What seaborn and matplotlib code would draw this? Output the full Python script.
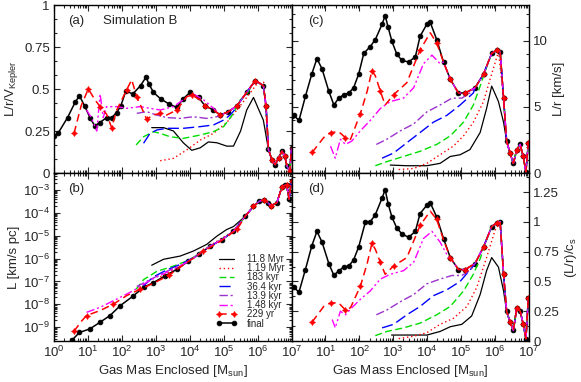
import numpy as np
import matplotlib
matplotlib.use("Agg")
import matplotlib.pyplot as plt
from matplotlib.ticker import LogLocator, MultipleLocator, FuncFormatter, NullFormatter, FixedLocator
import seaborn as sns

sns.set_style("ticks")
plt.rcParams["font.family"] = ["Liberation Sans", "DejaVu Sans"]
plt.rcParams["mathtext.default"] = "regular"

# series labels (legend order)
labels = ["11.8 Myr", "1.19 Myr", "183 kyr", "36.4 kyr", "13.9 kyr", "1.48 kyr", "229 yr", "final"]

# every series: (log10 enclosed mass, value); colored series continue on the final curve after their last point
# ---- panel (a): L/r/V_Kepler
a_118myr = ([2.88, 3.23, 3.52, 3.81, 4.06, 4.31, 4.55, 4.80, 5.09, 5.29, 5.50, 5.68, 5.88, 6.05, 6.17, 6.32],
            [0.27, 0.27, 0.25, 0.18, 0.135, 0.15, 0.185, 0.18, 0.16, 0.16, 0.25, 0.375, 0.45, 0.37, 0.315, 0.14])
a_119myr = ([3.13, 3.52, 3.91, 4.31, 4.70, 5.09, 5.39, 5.68, 5.98, 6.18, 6.25],
            [0.073, 0.087, 0.137, 0.196, 0.236, 0.30, 0.375, 0.45, 0.53, 0.54, 0.35])
a_183kyr = ([2.42, 2.64, 2.93, 3.13, 3.42, 3.81, 4.31, 4.70, 5.0, 5.29, 5.49, 5.68],
            [0.167, 0.216, 0.246, 0.236, 0.216, 0.206, 0.226, 0.246, 0.276, 0.355, 0.435, 0.47])
a_364kyr = ([2.64, 2.83, 3.03, 3.32, 3.81, 4.31, 4.70, 5.0, 5.19, 5.30],
            [0.177, 0.236, 0.256, 0.266, 0.266, 0.276, 0.286, 0.315, 0.345, 0.37])
a_139kyr = ([2.44, 2.73, 3.03, 3.32, 3.72, 4.11, 4.50, 4.80, 5.09],
            [0.355, 0.365, 0.345, 0.33, 0.325, 0.335, 0.325, 0.335, 0.35])
a_148kyr = ([0.96, 1.10, 1.26, 1.36, 1.45, 1.55, 1.85, 2.14, 2.54, 2.83, 3.13, 3.52, 3.91, 4.11, 4.41, 4.70],
            [0.375, 0.33, 0.25, 0.47, 0.33, 0.395, 0.395, 0.385, 0.395, 0.385, 0.375, 0.395, 0.45, 0.47, 0.435, 0.385])
a_229yr = ([0.59, 0.80, 1.01, 1.21, 1.36, 1.55, 1.70, 1.85, 2.14, 2.29, 2.44, 2.59, 2.73, 2.93, 3.13, 3.32, 3.62, 3.91, 4.06, 4.31],
           [0.236, 0.40, 0.50, 0.435, 0.395, 0.35, 0.27, 0.375, 0.494, 0.555, 0.454, 0.385, 0.32, 0.345, 0.355, 0.345, 0.375, 0.454, 0.464, 0.435])
a_final = ([0.0, 0.13, 0.40, 0.62, 0.75, 0.90, 1.06, 1.20, 1.35, 1.55, 1.70, 1.85, 1.97, 2.12, 2.32, 2.55, 2.71, 2.80, 2.93,
            3.15, 3.40, 3.62, 3.80, 4.01, 4.26, 4.45, 4.70, 4.90, 5.14, 5.39, 5.68, 5.93, 6.17, 6.25, 6.32, 6.42, 6.52,
            6.62, 6.72, 6.80, 6.87, 6.95, 7.0],
           [0.22, 0.24, 0.33, 0.42, 0.46, 0.40, 0.33, 0.28, 0.30, 0.33, 0.33, 0.36, 0.40, 0.49, 0.47, 0.52, 0.57, 0.53, 0.48,
            0.44, 0.41, 0.39, 0.44, 0.48, 0.45, 0.40, 0.375, 0.345, 0.365, 0.40, 0.48, 0.55, 0.52, 0.40, 0.14, 0.08, 0.05,
            0.09, 0.13, 0.10, 0.04, 0.01, 0.15])

# ---- panel (b): log10 L [km/s pc]
b_118myr = ([2.88, 3.23, 3.72, 4.11, 4.50, 4.80, 5.09, 5.29],
            [-6.29, -6.03, -5.89, -5.67, -5.38, -5.02, -4.73, -4.60])
b_119myr = ([3.13, 3.62, 4.11, 4.60, 5.09],
            [-6.80, -6.42, -6.00, -5.43, -4.98])
b_183kyr = ([2.42, 2.64, 3.03, 3.52, 4.01, 4.50],
            [-7.34, -6.92, -6.56, -6.33, -6.05, -5.55])
b_364kyr = ([2.64, 2.93, 3.32, 3.81, 4.20],
            [-7.19, -6.80, -6.50, -6.20, -5.88])
b_139kyr = ([2.44, 2.83, 3.32, 3.81, 4.20],
            [-7.22, -6.92, -6.56, -6.25, -5.90])
b_148kyr = ([0.96, 1.36, 1.85, 2.34, 2.83, 3.32, 3.81],
            [-8.35, -8.13, -7.77, -7.40, -6.95, -6.60, -6.25])
b_229yr = ([0.59, 0.80, 0.96, 1.36, 1.75, 2.14, 2.54, 2.93, 3.40, 3.90, 4.40, 4.90, 5.40],
           [-9.18, -8.75, -8.49, -8.27, -7.99, -7.62, -7.34, -7.08, -6.72, -6.18, -5.69, -5.25, -4.72])
b_final = ([0.52, 0.75, 1.06, 1.36, 1.65, 1.95, 2.32, 2.64, 2.93, 3.27, 3.62, 3.96, 4.26, 4.60, 4.95, 5.29, 5.63, 5.88,
            6.05, 6.18, 6.30, 6.40, 6.57, 6.72, 6.80, 6.86, 6.93, 7.0],
           [-9.58, -9.23, -9.07, -8.78, -8.49, -8.06, -7.65, -7.26, -7.05, -6.76, -6.47, -6.11, -5.82, -5.46, -5.17, -4.81,
            -4.16, -3.72, -3.50, -3.43, -3.55, -3.70, -3.55, -2.86, -2.80, -2.78, -3.40, -2.60])

# ---- panel (c): L/r [km/s]
c_118myr = ([2.91, 3.40, 3.99, 4.38, 4.68, 4.97, 5.26, 5.56, 5.75, 5.90, 6.10, 6.25, 6.34],
            [0.6, 0.55, 0.55, 0.73, 1.25, 1.38, 1.77, 3.06, 4.88, 6.57, 5.40, 3.84, 2.42])
c_119myr = ([3.16, 3.60, 3.99, 4.38, 4.77, 5.07, 5.36, 5.66, 5.90, 6.10, 6.25],
            [0.26, 0.34, 0.73, 1.38, 2.03, 2.81, 3.84, 5.40, 7.48, 9.17, 5.66])
c_183kyr = ([2.47, 2.81, 3.30, 3.79, 4.28, 4.68, 5.07, 5.36, 5.56, 5.75],
            [0.55, 0.86, 1.25, 1.64, 2.16, 2.81, 3.84, 5.14, 6.57, 8.0])
c_364kyr = ([2.67, 3.01, 3.40, 3.79, 4.18, 4.58, 4.97, 5.36],
            [1.12, 1.51, 2.29, 3.06, 3.84, 4.36, 5.14, 6.05])
c_139kyr = ([2.50, 2.81, 3.21, 3.60, 3.99, 4.38, 4.73, 5.02, 5.26],
            [2.16, 2.55, 3.19, 3.71, 4.62, 5.14, 5.66, 5.66, 6.05])
c_148kyr = ([1.15, 1.29, 1.44, 1.59, 1.78, 2.03, 2.32, 2.62, 2.91, 3.30, 3.60, 3.89, 4.14, 4.38],
            [2.03, 1.12, 2.55, 2.16, 2.42, 3.19, 3.97, 4.88, 5.40, 5.66, 6.44, 8.26, 8.91, 8.26])
c_229yr = ([0.61, 0.95, 1.15, 1.39, 1.59, 1.74, 2.03, 2.23, 2.37, 2.47, 2.62, 2.76, 3.01, 3.40, 3.79, 4.09, 4.28],
           [1.56, 2.68, 3.06, 3.12, 2.68, 2.55, 4.49, 6.18, 7.74, 7.35, 6.18, 5.14, 5.92, 6.83, 9.30, 10.6, 9.82])
c_final = ([0.0, 0.07, 0.22, 0.41, 0.60, 0.75, 0.90, 1.10, 1.25, 1.39, 1.54, 1.69, 1.83, 1.98, 2.13, 2.32, 2.47, 2.67,
            2.76, 2.85, 2.96, 3.10, 3.25, 3.45, 3.65, 3.79, 3.99, 4.09, 4.28, 4.48, 4.68, 4.92, 5.12, 5.41, 5.66, 5.90,
            6.05, 6.15, 6.25, 6.34, 6.44, 6.54, 6.64, 6.74, 6.83, 6.91, 6.98],
           [4.3, 4.36, 3.97, 5.79, 7.5, 8.65, 7.87, 6.18, 5.14, 5.66, 5.92, 6.05, 6.44, 7.48, 9.04, 9.56, 10.08, 11.25,
            11.9, 11.0, 9.95, 9.0, 8.52, 8.39, 8.78, 10.34, 11.25, 11.38, 10.08, 8.39, 7.09, 6.05, 6.05, 6.44, 7.48, 9.04,
            9.30, 9.17, 5.66, 2.42, 1.51, 0.73, 1.77, 2.16, 1.25, 0.08, 2.3])

# ---- panel (d): (L/r)/c_s
d_118myr = ([2.95, 3.99, 4.38, 4.68, 5.02, 5.31, 5.56, 5.75, 5.90, 6.10, 6.25, 6.34],
            [0.05, 0.05, 0.08, 0.12, 0.14, 0.21, 0.39, 0.59, 0.70, 0.62, 0.42, 0.25])
d_119myr = ([3.16, 3.60, 3.99, 4.38, 4.77, 5.17, 5.46, 5.75, 6.0, 6.15, 6.25],
            [0.02, 0.04, 0.07, 0.14, 0.19, 0.29, 0.45, 0.70, 0.93, 0.99, 0.56])
d_183kyr = ([2.47, 2.81, 3.30, 3.79, 4.28, 4.68, 5.07, 5.36, 5.56, 5.75],
            [0.045, 0.08, 0.11, 0.15, 0.22, 0.29, 0.42, 0.56, 0.69, 0.85])
d_364kyr = ([2.67, 3.01, 3.40, 3.79, 4.18, 4.58, 4.97, 5.36],
            [0.11, 0.14, 0.22, 0.29, 0.38, 0.43, 0.50, 0.63])
d_139kyr = ([2.50, 2.81, 3.21, 3.60, 3.99, 4.38, 4.73, 5.02, 5.26],
            [0.22, 0.26, 0.33, 0.39, 0.48, 0.52, 0.55, 0.55, 0.59])
d_148kyr = ([1.20, 1.29, 1.44, 1.59, 1.78, 2.03, 2.32, 2.62, 2.91, 3.30, 3.60, 3.89, 4.14, 4.38, 4.63],
            [0.18, 0.11, 0.25, 0.22, 0.28, 0.35, 0.42, 0.52, 0.56, 0.59, 0.66, 0.86, 0.92, 0.83, 0.70])
d_229yr = ([0.61, 0.95, 1.15, 1.39, 1.59, 1.74, 2.03, 2.23, 2.37, 2.47, 2.62, 2.76, 3.01, 3.40, 3.79, 4.09, 4.28, 4.48],
           [0.16, 0.29, 0.32, 0.32, 0.26, 0.28, 0.46, 0.65, 0.82, 0.77, 0.66, 0.56, 0.63, 0.70, 0.97, 1.09, 1.02, 0.85])
d_final = ([0.0, 0.07, 0.22, 0.41, 0.60, 0.75, 0.90, 1.10, 1.25, 1.39, 1.54, 1.69, 1.83, 1.98, 2.18, 2.32, 2.47, 2.67,
            2.76, 2.85, 2.96, 3.10, 3.25, 3.45, 3.65, 3.79, 3.99, 4.09, 4.28, 4.48, 4.68, 4.92, 5.12, 5.41, 5.66, 5.90,
            6.05, 6.15, 6.25, 6.34, 6.44, 6.54, 6.64, 6.74, 6.83, 6.91, 6.98],
           [0.45, 0.45, 0.41, 0.60, 0.80, 0.92, 0.83, 0.65, 0.55, 0.59, 0.62, 0.63, 0.68, 0.79, 1.0, 1.0, 1.06, 1.20,
            1.27, 1.15, 1.04, 0.95, 0.90, 0.87, 0.92, 1.07, 1.14, 1.16, 1.04, 0.86, 0.70, 0.60, 0.60, 0.65, 0.79, 0.96,
            0.99, 1.0, 0.56, 0.25, 0.16, 0.09, 0.28, 0.25, 0.14, 0.02, 0.36])

mass_decades = [1, 1e1, 1e2, 1e3, 1e4, 1e5, 1e6, 1e7]
l_decades = [1e-9, 1e-8, 1e-7, 1e-6, 1e-5, 1e-4, 1e-3]

colors = ["black", "#ff0000", "#00dd00", "#0000ff", "#9a32cd", "#ff00ff", "#ff0000", "black"]
styles = ["-", (0, (1, 2)), (0, (5, 2.5)), (0, (8, 3)), (0, (6, 2, 1.5, 2)), (0, (6, 2, 1.5, 2, 1.5, 2)), (0, (5, 3)), "-"]
widths = [0.9, 1.0, 1.0, 1.0, 1.0, 1.0, 1.1, 1.1]
markers = [None, None, None, None, None, None, (4, 1, 0), "o"]
msizes = [0, 0, 0, 0, 0, 0, 4.2, 3.4]
mevery = [1, 1, 1, 1, 1, 1, 2, 1]


def with_tail(s, final):
    m, v = list(s[0]), list(s[1])
    keep = [i for i, x in enumerate(final[0]) if x > m[-1] + 0.03]
    return m + [final[0][i] for i in keep], v + [final[1][i] for i in keep]


def draw(ax, series, logy=False):
    final = series[-1]
    order = [0, 7, 1, 2, 3, 4, 5, 6]
    for i in order:
        m, v = (list(final[0]), list(final[1])) if i == 7 else with_tail(series[i], final)
        x = 10 ** np.array(m)
        y = 10 ** np.array(v) if logy else np.array(v)
        kw = dict(color=colors[i], linestyle=styles[i], linewidth=widths[i], label=labels[i])
        if markers[i] is not None:
            kw.update(marker=markers[i], markersize=msizes[i], markeredgecolor=colors[i],
                      markerfacecolor=colors[i], markeredgewidth=0.6, markevery=mevery[i])
        sns.lineplot(x=x, y=y, ax=ax, estimator=None, sort=False, legend=False, **kw)


def log_label(x, pos, skip_first=False):
    if skip_first and x < 5:
        return ""
    return "$10^{%d}$" % int(round(np.log10(x)))


fig, axes = plt.subplots(2, 2, figsize=(5.81, 3.82), dpi=100)
fig.subplots_adjust(left=54 / 581, right=529 / 581, top=1 - 5 / 382, bottom=1 - 341 / 382, wspace=0, hspace=0)
ax_a, ax_c = axes[0]
ax_b, ax_d = axes[1]

draw(ax_a, [a_118myr, a_119myr, a_183kyr, a_364kyr, a_139kyr, a_148kyr, a_229yr, a_final])
draw(ax_b, [b_118myr, b_119myr, b_183kyr, b_364kyr, b_139kyr, b_148kyr, b_229yr, b_final], logy=True)
draw(ax_c, [c_118myr, c_119myr, c_183kyr, c_364kyr, c_139kyr, c_148kyr, c_229yr, c_final])
draw(ax_d, [d_118myr, d_119myr, d_183kyr, d_364kyr, d_139kyr, d_148kyr, d_229yr, d_final])

for ax in axes.flat:
    ax.set_xscale("log")
    ax.set_xlim(1, 1e7)
    ax.xaxis.set_major_locator(FixedLocator(mass_decades))
    ax.xaxis.set_minor_locator(LogLocator(base=10, subs=np.arange(2, 10), numticks=100))
    ax.xaxis.set_minor_formatter(NullFormatter())
    ax.tick_params(which="both", direction="in", top=True, right=True, left=True, bottom=True,
                   labelsize=9.5, width=0.8, pad=3)
    ax.tick_params(which="major", length=4.5)
    ax.tick_params(which="minor", length=2.5)
    for sp in ax.spines.values():
        sp.set_linewidth(1.0)
        sp.set_color("black")
    ax.set_xlabel("")
    ax.set_ylabel("")

for ax in (ax_a, ax_c):
    ax.tick_params(labelbottom=False)
ax_b.xaxis.set_major_formatter(FuncFormatter(lambda x, p: log_label(x, p)))
ax_d.xaxis.set_major_formatter(FuncFormatter(lambda x, p: log_label(x, p, skip_first=True)))

for ax in (ax_c, ax_d):
    ax.tick_params(labelleft=False, labelright=True)
    ax.yaxis.set_label_position("right")

gfmt = FuncFormatter(lambda y, p: "%g" % y)

ax_a.set_ylim(0, 1)
ax_a.yaxis.set_major_locator(MultipleLocator(0.25))
ax_a.yaxis.set_minor_locator(MultipleLocator(0.25 / 3))
ax_a.yaxis.set_major_formatter(gfmt)

ax_b.set_yscale("log")
ax_b.set_ylim(2.5e-10, 5.5e-3)
ax_b.yaxis.set_major_locator(FixedLocator(l_decades))
ax_b.yaxis.set_major_formatter(FuncFormatter(lambda y, p: log_label(y, p)))
ax_b.yaxis.set_minor_locator(LogLocator(base=10, subs=np.arange(2, 10), numticks=100))
ax_b.yaxis.set_minor_formatter(NullFormatter())

ax_c.set_ylim(0, 12.7)
ax_c.yaxis.set_major_locator(MultipleLocator(5))
ax_c.yaxis.set_minor_locator(MultipleLocator(1))
ax_c.yaxis.set_major_formatter(gfmt)

ax_d.set_ylim(0, 1.41)
ax_d.yaxis.set_major_locator(MultipleLocator(0.25))
ax_d.yaxis.set_minor_locator(MultipleLocator(0.125))
ax_d.yaxis.set_major_formatter(gfmt)

fs = 9.5
ax_a.set_ylabel("L/r/V$_{Kepler}$", fontsize=fs)
ax_b.set_ylabel("L [km/s pc]", fontsize=fs)
ax_c.set_ylabel("L/r [km/s]", fontsize=fs)
ax_d.set_ylabel("(L/r)/c$_s$", fontsize=fs)
ax_a.yaxis.set_label_coords(-0.145, 0.5)
ax_b.yaxis.set_label_coords(-0.145, 0.5)
ax_c.yaxis.set_label_coords(1.10, 0.5)
ax_d.yaxis.set_label_coords(1.145, 0.5)
ax_b.set_xlabel("Gas Mas Enclosed [M$_{sun}$]", fontsize=fs, labelpad=2)
ax_d.set_xlabel("Gas Mass Enclosed [M$_{sun}$]", fontsize=fs, labelpad=2)

ax_a.text(0.06, 0.885, "(a)", transform=ax_a.transAxes, fontsize=9.5)
ax_a.text(0.205, 0.885, "Simulation B", transform=ax_a.transAxes, fontsize=9.5)
ax_b.text(0.06, 0.885, "(b)", transform=ax_b.transAxes, fontsize=9.5)
ax_c.text(0.07, 0.885, "(c)", transform=ax_c.transAxes, fontsize=9.5)
ax_d.text(0.07, 0.885, "(d)", transform=ax_d.transAxes, fontsize=9.5)

handles, hl = ax_b.get_legend_handles_labels()
hmap = dict(zip(hl, handles))
ax_b.legend([hmap[l] for l in labels], labels, loc="upper left",
            bbox_to_anchor=(216 / 581, 1 - 254 / 382), bbox_transform=fig.transFigure,
            frameon=False, fontsize=7, handlelength=2.2, handletextpad=1.0,
            labelspacing=-0.08, borderpad=0, borderaxespad=0, numpoints=2)

fig.savefig("out.png", dpi=100)
